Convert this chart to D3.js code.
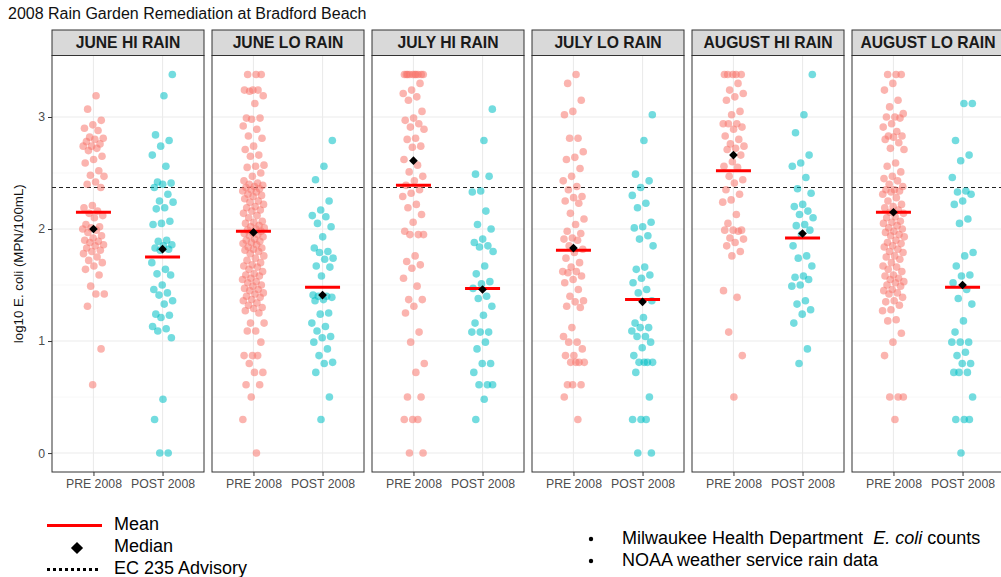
<!DOCTYPE html>
<html>
<head>
<meta charset="utf-8">
<script src="https://cdn.jsdelivr.net/npm/d3@7"></script>
<style>
  body { margin: 0; background: #fff; }
  text { font-family: "Liberation Sans", Arial, sans-serif; }
</style>
</head>
<body>
<div class="canva"></div>
<script>
var width = 1001;
var height = 577;

// facets and groups
const facets = ['JUNE HI RAIN', 'JUNE LO RAIN', 'JULY HI RAIN', 'JULY LO RAIN', 'AUGUST HI RAIN', 'AUGUST LO RAIN'];
const groups = ['PRE 2008', 'POST 2008'];
const yTicks = [0, 1, 2, 3];
const advisory = Math.log10(235);

// log10 E. coli values
const junHiPre = [3.19, 3.07, 2.97, 2.93, 2.90, 2.88, 2.82, 2.81, 2.80, 2.78, 2.76, 2.74, 2.74, 2.72, 2.70, 2.65, 2.62, 2.59, 2.52, 2.48, 2.47, 2.42, 2.40, 2.37, 2.21, 2.19, 2.16, 2.14, 2.12, 2.10, 2.04, 2.02, 2.01, 2.00, 1.99, 1.97, 1.94, 1.92, 1.90, 1.89, 1.88, 1.86, 1.85, 1.83, 1.81, 1.80, 1.78, 1.75, 1.72, 1.70, 1.67, 1.64, 1.59, 1.49, 1.42, 1.42, 1.31, 0.93, 0.61];
const junHiPost = [3.38, 3.19, 2.84, 2.79, 2.74, 2.66, 2.56, 2.42, 2.41, 2.40, 2.37, 2.31, 2.25, 2.24, 2.19, 2.18, 2.07, 2.05, 2.04, 1.90, 1.89, 1.86, 1.85, 1.83, 1.82, 1.81, 1.70, 1.64, 1.60, 1.59, 1.50, 1.46, 1.43, 1.41, 1.36, 1.33, 1.24, 1.23, 1.21, 1.13, 1.11, 1.09, 1.03, 0.48, 0.30, 0, 0];
const junLoPre = [3.38, 3.38, 3.38, 3.24, 3.24, 3.24, 3.23, 3.19, 3.12, 2.99, 2.99, 2.98, 2.92, 2.89, 2.83, 2.81, 2.74, 2.71, 2.66, 2.65, 2.57, 2.56, 2.55, 2.50, 2.47, 2.43, 2.41, 2.40, 2.39, 2.38, 2.37, 2.36, 2.35, 2.34, 2.33, 2.31, 2.30, 2.29, 2.27, 2.25, 2.24, 2.22, 2.20, 2.19, 2.17, 2.16, 2.14, 2.12, 2.10, 2.07, 2.06, 2.05, 2.03, 2.02, 2.01, 2.00, 1.99, 1.98, 1.97, 1.96, 1.95, 1.94, 1.93, 1.91, 1.90, 1.89, 1.88, 1.87, 1.86, 1.84, 1.83, 1.82, 1.81, 1.80, 1.78, 1.76, 1.74, 1.72, 1.70, 1.68, 1.67, 1.66, 1.64, 1.62, 1.60, 1.59, 1.58, 1.56, 1.55, 1.53, 1.52, 1.50, 1.49, 1.47, 1.46, 1.45, 1.43, 1.42, 1.40, 1.39, 1.37, 1.36, 1.34, 1.32, 1.30, 1.29, 1.27, 1.25, 1.16, 1.16, 1.09, 1.09, 0.99, 0.87, 0.87, 0.87, 0.80, 0.72, 0.72, 0.61, 0.61, 0.50, 0.30, 0];
const junLoPost = [2.79, 2.56, 2.44, 2.25, 2.17, 2.12, 2.11, 2.05, 2.02, 1.93, 1.83, 1.80, 1.79, 1.74, 1.73, 1.67, 1.66, 1.58, 1.41, 1.40, 1.40, 1.39, 1.37, 1.36, 1.25, 1.24, 1.16, 1.13, 1.09, 1.04, 1.03, 0.99, 0.93, 0.87, 0.81, 0.80, 0.72, 0.50, 0.30];
const julHiPre = [3.38, 3.38, 3.38, 3.38, 3.38, 3.38, 3.38, 3.38, 3.38, 3.38, 3.30, 3.24, 3.21, 3.18, 3.15, 3.05, 2.99, 2.97, 2.94, 2.91, 2.89, 2.81, 2.80, 2.74, 2.73, 2.62, 2.57, 2.51, 2.47, 2.43, 2.39, 2.35, 2.32, 2.29, 2.22, 2.19, 2.13, 2.06, 1.98, 1.95, 1.95, 1.95, 1.76, 1.71, 1.68, 1.65, 1.56, 1.49, 1.37, 1.37, 1.31, 1.25, 1.08, 0.99, 0.80, 0.72, 0.50, 0.50, 0.30, 0.30, 0.30, 0, 0];
const julHiPost = [3.07, 2.79, 2.49, 2.47, 2.34, 2.33, 2.16, 2.04, 2.00, 1.91, 1.88, 1.85, 1.84, 1.80, 1.67, 1.60, 1.53, 1.51, 1.47, 1.40, 1.38, 1.31, 1.23, 1.16, 1.08, 1.08, 1.08, 0.99, 0.93, 0.80, 0.80, 0.72, 0.61, 0.61, 0.61, 0.48, 0.30];
const julLoPre = [3.38, 3.30, 3.15, 3.05, 3.02, 2.81, 2.81, 2.69, 2.64, 2.62, 2.54, 2.47, 2.43, 2.38, 2.35, 2.29, 2.28, 2.25, 2.23, 2.14, 2.09, 2.04, 1.98, 1.96, 1.92, 1.91, 1.90, 1.85, 1.82, 1.79, 1.74, 1.70, 1.66, 1.62, 1.62, 1.61, 1.58, 1.55, 1.52, 1.46, 1.40, 1.36, 1.35, 1.31, 1.30, 1.12, 1.04, 0.99, 0.99, 0.93, 0.87, 0.87, 0.81, 0.81, 0.81, 0.81, 0.61, 0.61, 0.61, 0.50, 0.30];
const julLoPost = [3.02, 2.79, 2.49, 2.43, 2.37, 2.30, 2.23, 2.19, 2.06, 2.02, 2.01, 1.94, 1.91, 1.85, 1.66, 1.64, 1.59, 1.56, 1.52, 1.46, 1.43, 1.36, 1.21, 1.16, 1.12, 1.12, 1.09, 1.04, 1.04, 0.99, 0.94, 0.87, 0.81, 0.81, 0.81, 0.81, 0.72, 0.50, 0.30, 0.30, 0.30, 0, 0];
const augHiPre = [3.38, 3.38, 3.38, 3.38, 3.38, 3.30, 3.24, 3.21, 3.18, 3.15, 3.05, 3.02, 2.94, 2.94, 2.94, 2.91, 2.89, 2.83, 2.80, 2.76, 2.74, 2.72, 2.71, 2.66, 2.60, 2.56, 2.55, 2.47, 2.44, 2.41, 2.35, 2.31, 2.26, 2.24, 2.13, 2.05, 1.99, 1.99, 1.99, 1.98, 1.92, 1.91, 1.88, 1.85, 1.80, 1.76, 1.45, 1.39, 1.08, 0.87, 0.50];
const augHiPost = [3.38, 3.02, 2.86, 2.66, 2.59, 2.56, 2.46, 2.36, 2.32, 2.22, 2.20, 2.16, 2.13, 2.10, 2.04, 2.03, 1.99, 1.95, 1.85, 1.76, 1.74, 1.67, 1.58, 1.57, 1.55, 1.50, 1.49, 1.36, 1.33, 1.28, 1.24, 1.16, 0.93, 0.80];
const augLoPre = [3.38, 3.38, 3.38, 3.30, 3.24, 3.15, 3.09, 3.03, 3.00, 3.00, 2.99, 2.94, 2.91, 2.87, 2.83, 2.83, 2.82, 2.80, 2.77, 2.72, 2.71, 2.59, 2.56, 2.51, 2.47, 2.45, 2.43, 2.40, 2.38, 2.35, 2.35, 2.34, 2.33, 2.31, 2.28, 2.25, 2.22, 2.20, 2.19, 2.17, 2.15, 2.14, 2.11, 2.10, 2.07, 2.06, 2.05, 2.03, 2.01, 2.00, 1.98, 1.97, 1.95, 1.94, 1.93, 1.90, 1.88, 1.87, 1.85, 1.84, 1.82, 1.80, 1.79, 1.76, 1.75, 1.73, 1.70, 1.67, 1.66, 1.64, 1.62, 1.59, 1.58, 1.56, 1.55, 1.53, 1.52, 1.50, 1.49, 1.46, 1.45, 1.43, 1.42, 1.39, 1.36, 1.35, 1.32, 1.28, 1.27, 1.19, 1.18, 1.07, 0.99, 0.87, 0.50, 0.50, 0.50, 0.30];
const augLoPost = [3.12, 3.12, 2.79, 2.66, 2.61, 2.46, 2.34, 2.33, 2.31, 2.25, 2.22, 2.09, 2.05, 1.79, 1.76, 1.67, 1.59, 1.58, 1.52, 1.46, 1.38, 1.33, 1.18, 1.08, 0.99, 0.99, 0.99, 0.90, 0.87, 0.80, 0.80, 0.72, 0.72, 0.72, 0.50, 0.30, 0.30, 0.30, 0];

// summary stats, [pre, post] per facet
const means = [[2.15, 1.75], [1.98, 1.48], [2.39, 1.47], [1.81, 1.37], [2.52, 1.92], [2.15, 1.48]];
const medians = [[2.00, 1.82], [1.97, 1.41], [2.61, 1.46], [1.83, 1.35], [2.66, 1.96], [2.15, 1.50]];

const values = [
  [junHiPre, junHiPost], [junLoPre, junLoPost], [julHiPre, julHiPost],
  [julLoPre, julLoPost], [augHiPre, augHiPost], [augLoPre, augLoPost]
];

const colors = {'PRE 2008': '#F8766D', 'POST 2008': '#00BFC4'};

const panelW = 152, panelStep = 160, panelX0 = 52;
const stripTop = 30, panelTop = 55.5, panelBottom = 472;

const svg = d3.select('.canva').append('svg')
            .attr('width', width)
            .attr('height', height);

svg.append('text')
   .attr('x', 8).attr('y', 19)
   .attr('font-size', 16).attr('fill', '#111')
   .text('2008 Rain Garden Remediation at Bradford Beach');

const y = d3.scaleLinear().domain([-0.169, 3.549]).range([panelBottom, panelTop]);
const x = d3.scalePoint().domain(groups).range([0, panelW]).padding(0.6);

// deterministic jitter (golden ratio sequence)
const jitter = i => (((i + 1) * 0.6180339887) % 1 - 0.5) * 22;

facets.forEach((f, fi) => {
  const g = svg.append('g').attr('transform', `translate(${panelX0 + fi * panelStep},0)`);

  // strip
  g.append('rect')
   .attr('x', 0).attr('y', stripTop)
   .attr('width', panelW).attr('height', panelTop - stripTop)
   .attr('fill', '#d9d9d9').attr('stroke', '#333').attr('stroke-width', 1);
  g.append('text')
   .attr('x', panelW / 2).attr('y', (stripTop + panelTop) / 2 + 5.5)
   .attr('text-anchor', 'middle').attr('font-size', 15.7).attr('font-weight', 'bold')
   .attr('fill', '#1a1a1a')
   .text(f);

  // grid
  g.selectAll('.minor').data([0.5, 1.5, 2.5]).enter().append('line')
   .attr('x1', 0).attr('x2', panelW)
   .attr('y1', d => y(d)).attr('y2', d => y(d))
   .attr('stroke', '#f2f2f2').attr('stroke-width', 0.6);
  g.selectAll('.major').data(yTicks).enter().append('line')
   .attr('x1', 0).attr('x2', panelW)
   .attr('y1', d => y(d)).attr('y2', d => y(d))
   .attr('stroke', '#ebebeb').attr('stroke-width', 1.1);
  g.selectAll('.vmajor').data(groups).enter().append('line')
   .attr('x1', d => x(d)).attr('x2', d => x(d))
   .attr('y1', panelTop).attr('y2', panelBottom)
   .attr('stroke', '#ebebeb').attr('stroke-width', 1.1);

  // advisory line
  g.append('line')
   .attr('x1', 0).attr('x2', panelW)
   .attr('y1', y(advisory)).attr('y2', y(advisory))
   .attr('stroke', '#222').attr('stroke-width', 1.1)
   .attr('stroke-dasharray', '4,3');

  // points
  groups.forEach((grp, gi) => {
    g.selectAll('.pt' + gi)
     .data(values[fi][gi]).enter().append('circle')
     .attr('cx', (d, i) => x(grp) + jitter(i + gi * 7))
     .attr('cy', d => y(d))
     .attr('r', 3.8)
     .attr('fill', colors[grp])
     .attr('fill-opacity', 0.55);
  });

  // mean bars
  g.selectAll('.mean').data(groups).enter().append('line')
   .attr('x1', d => x(d) - 17.5).attr('x2', d => x(d) + 17.5)
   .attr('y1', (d, i) => y(means[fi][i])).attr('y2', (d, i) => y(means[fi][i]))
   .attr('stroke', '#ff0000').attr('stroke-width', 3);

  // median diamonds
  g.selectAll('.median').data(groups).enter().append('path')
   .attr('d', d3.symbol(d3.symbolDiamond2, 48))
   .attr('transform', (d, i) => `translate(${x(d)},${y(medians[fi][i])})`)
   .attr('fill', '#000');

  // panel border
  g.append('rect')
   .attr('x', 0).attr('y', panelTop)
   .attr('width', panelW).attr('height', panelBottom - panelTop)
   .attr('fill', 'none').attr('stroke', '#333').attr('stroke-width', 1);

  // x axis
  const xa = g.append('g')
   .attr('transform', `translate(0,${panelBottom})`)
   .call(d3.axisBottom(x).tickSize(4).tickPadding(3));
  xa.select('.domain').remove();
  xa.selectAll('line').attr('stroke', '#333');
  xa.selectAll('text').attr('font-size', 12.3).attr('fill', '#4d4d4d')
    .style('font-family', '"Liberation Sans", Arial, sans-serif');

  if (fi === 0) {
    const ya = g.append('g')
     .call(d3.axisLeft(y).tickValues(yTicks).tickSize(4).tickPadding(3).tickFormat(d3.format('d')));
    ya.select('.domain').remove();
    ya.selectAll('line').attr('stroke', '#333');
    ya.selectAll('text').attr('font-size', 12.3).attr('fill', '#4d4d4d')
      .style('font-family', '"Liberation Sans", Arial, sans-serif');
  }
});

// y title
svg.append('text')
   .attr('transform', `translate(23,${(panelTop + panelBottom) / 2}) rotate(-90)`)
   .attr('text-anchor', 'middle').attr('font-size', 13.3).attr('fill', '#111')
   .text('log10 E. coli (MPN/100mL)');

// legend, bottom left
const leg = svg.append('g');
leg.append('line').attr('x1', 47).attr('x2', 102).attr('y1', 525.5).attr('y2', 525.5)
   .attr('stroke', '#ff0000').attr('stroke-width', 3);
leg.append('path')
   .attr('d', d3.symbol(d3.symbolDiamond2, 95))
   .attr('transform', 'translate(77,548)')
   .attr('fill', '#000');
leg.append('line').attr('x1', 47).attr('x2', 100).attr('y1', 569.5).attr('y2', 569.5)
   .attr('stroke', '#000').attr('stroke-width', 3).attr('stroke-dasharray', '3,3');
const legText = ['Mean', 'Median', 'EC 235 Advisory'];
leg.selectAll('.lt').data(legText).enter().append('text')
   .attr('x', 114).attr('y', (d, i) => 529.5 + i * 22)
   .attr('font-size', 18).attr('fill', '#000')
   .text(d => d);

// sources, bottom right
const notes = svg.append('g');
[544, 566].forEach((yy, i) => {
  notes.append('circle').attr('cx', 591).attr('cy', yy - 5).attr('r', 2.2).attr('fill', '#000');
});
const t1 = notes.append('text').attr('x', 622).attr('y', 544).attr('font-size', 18).attr('fill', '#000');
t1.append('tspan').text('Milwaukee Health Department');
t1.append('tspan').attr('dx', 10).attr('font-style', 'italic').text('E. coli');
t1.append('tspan').text(' counts');
notes.append('text').attr('x', 622).attr('y', 566).attr('font-size', 18).attr('fill', '#000')
   .text('NOAA weather service rain data');
</script>
</body>
</html>
